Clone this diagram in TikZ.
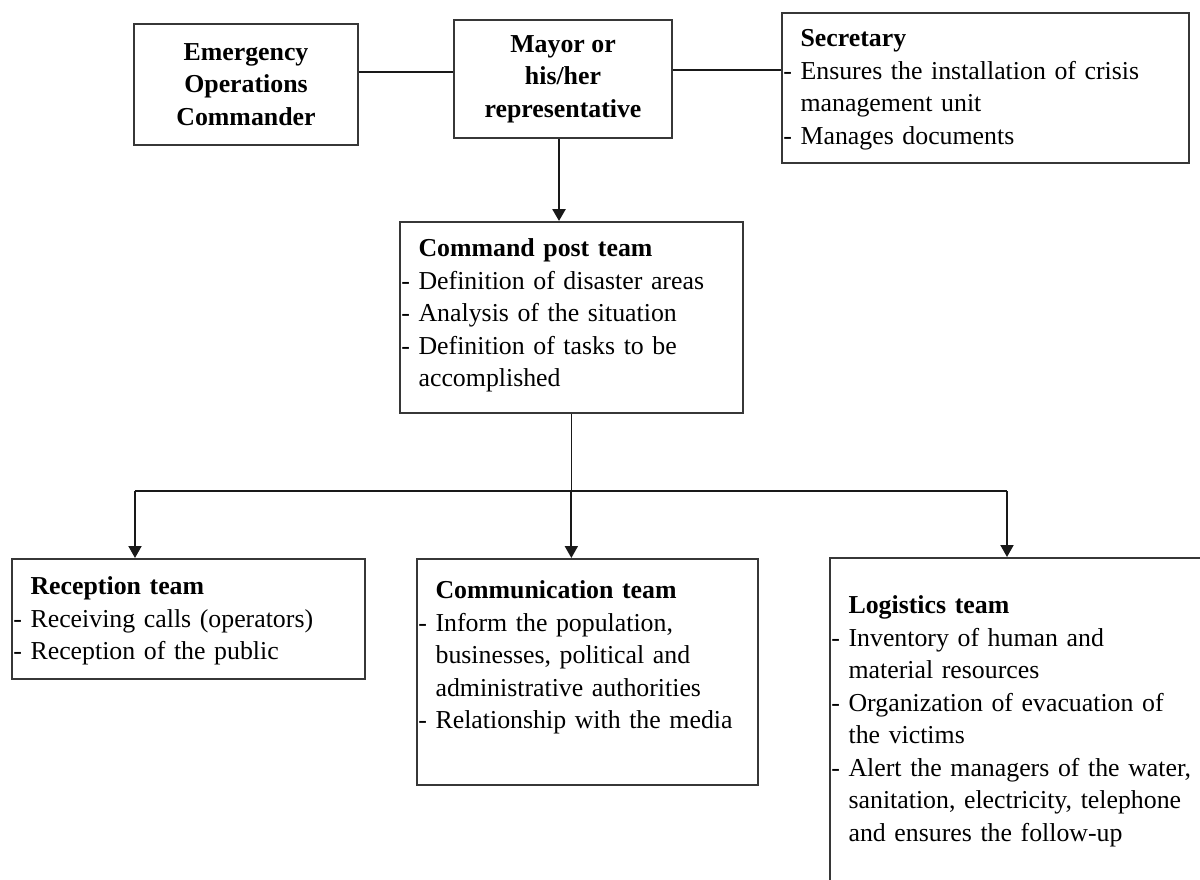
\documentclass[tikz,border=0pt]{standalone}
\usepackage{fontspec}
\setmainfont{Liberation Serif}
\usepackage{tikz}
\usetikzlibrary{arrows.meta, positioning, calc}
\definecolor{boxline}{RGB}{55,55,55}
\definecolor{mydark}{RGB}{25,25,25}
\newcommand{\itm}{-\space}
\newcommand{\cnt}{\hphantom{-\space}}
\newcommand{\ttl}[1]{\cnt\textbf{#1}}
\tikzset{
  every node/.style={font=\fontsize{14.7}{18.5}\selectfont},
  headbox/.style={rectangle, draw=boxline, line width=1pt, align=center,
    inner sep=0pt, font=\fontsize{14.7}{18.5}\selectfont\bfseries},
  box/.style={rectangle, draw=boxline, line width=1pt, anchor=north west,
    align=left, inner xsep=0.03cm, text height=0.36cm},
  arrow/.style={-{Triangle[width=0.26cm,length=0.24cm]}, line width=1.1pt, color=mydark},
  line/.style={line width=0.8pt, color=mydark}
}

\begin{document}
\begin{tikzpicture}[x=0.02cm, y=-0.02cm]
  \clip (0,0) rectangle (1200,879);

  % --- Top row ---
  \node[headbox, minimum width=4.48cm, minimum height=2.42cm] (eoc) at (246,84.5)
    {Emergency\\Operations\\Commander};
  \node[headbox, minimum width=4.36cm, minimum height=2.36cm] (mayor) at (563,79)
    {Mayor or\\his/her\\representative};
  \node[box, text width=8.08cm, inner ysep=0.32cm, text depth=2.0cm] (sec) at (781,12)
    {\ttl{Secretary}\\
     \itm Ensures the installation of crisis\\
     \cnt management unit\\
     \itm Manages documents};
  \draw[line] ([yshift=0.25cm]eoc.east) -- ([yshift=0.25cm]eoc.east -| mayor.west);
  \draw[line] ([yshift=0.18cm]mayor.east) -- ([yshift=0.18cm]mayor.east -| sec.west);

  % --- Command post ---
  \node[box, text width=6.8cm, inner ysep=0.34cm, text depth=2.78cm] (cmd) at (399,221)
    {\ttl{Command post team}\\
     \itm Definition of disaster areas\\
     \itm Analysis of the situation\\
     \itm Definition of tasks to be\\
     \cnt accomplished};
  \draw[arrow, line width=1.5pt] ([xshift=-0.08cm]mayor.south) -- ([xshift=-0.08cm]mayor.south |- cmd.north);

  % --- Teams ---
  \node[box, text width=7.0cm, inner ysep=0.36cm, text depth=1.32cm] (recv) at (11,558)
    {\ttl{Reception team}\\
     \itm Receiving calls (operators)\\
     \itm Reception of the public};
  \node[box, text width=6.76cm, inner ysep=0.44cm, text depth=3.28cm] (comm) at (416,558)
    {\ttl{Communication team}\\
     \itm Inform the population,\\
     \cnt businesses, political and\\
     \cnt administrative authorities\\
     \itm Relationship with the media};
  \node[box, text width=7.94cm, inner ysep=0.76cm, text depth=4.98cm] (logi) at (829,557)
    {\ttl{Logistics team}\\
     \itm Inventory of human and\\
     \cnt material resources\\
     \itm Organization of evacuation of\\
     \cnt the victims\\
     \itm Alert the managers of the water,\\
     \cnt sanitation, electricity, telephone\\
     \cnt and ensures the follow-up};

  % --- Branches ---
  \coordinate (busL) at (135,491);
  \coordinate (busR) at (1007,491);
  \draw[line] (busL) -- (busR);
  \draw[line] (cmd.south) -- (cmd.south |- busL);
  \draw[arrow] (busL) -- (busL |- recv.north);
  \draw[arrow] (cmd.south |- busL) -- (cmd.south |- comm.north);
  \draw[arrow] (busR) -- (busR |- logi.north);
\end{tikzpicture}
\end{document}
